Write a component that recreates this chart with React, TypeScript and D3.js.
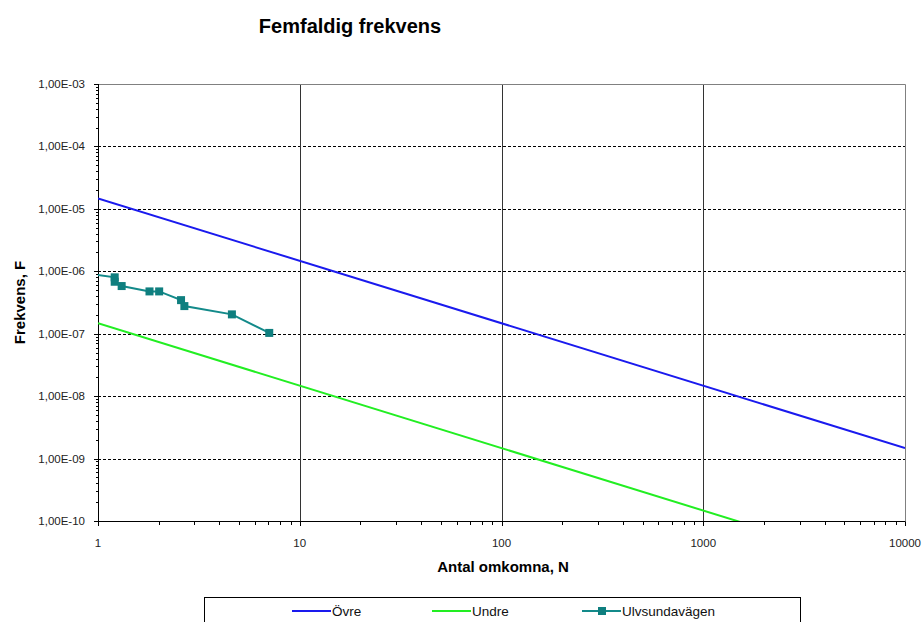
import { useEffect, useRef } from 'react';
import * as d3 from 'd3';

// Axis ticks
const xTicks = [1, 10, 100, 1000, 10000];
const xTickLabels = ['1', '10', '100', '1000', '10000'];
const yTicks = [1e-3, 1e-4, 1e-5, 1e-6, 1e-7, 1e-8, 1e-9, 1e-10];
const yTickLabels = ['1,00E-03', '1,00E-04', '1,00E-05', '1,00E-06', '1,00E-07', '1,00E-08', '1,00E-09', '1,00E-10'];

// Series
const ovreN = [1, 10000];
const ovreF = [1.47e-5, 1.47e-9];
const undreN = [1, 10000];
const undreF = [1.47e-7, 1.47e-11];
const ulvN = [0.9, 1.21, 1.21, 1.31, 1.8, 2.01, 2.58, 2.68, 4.61, 7.06];
const ulvF = [9.1e-7, 8.0e-7, 6.8e-7, 5.8e-7, 4.76e-7, 4.76e-7, 3.45e-7, 2.77e-7, 2.04e-7, 1.03e-7];

const App = () => {
  const svgRef = useRef<SVGSVGElement>(null);

  useEffect(() => {
    const svg = d3.select(svgRef.current);
    svg.selectAll('*').remove();

    const width = 923;
    const height = 622;
    const left = 98, right = 905, top = 84, bottom = 521;
    const font = 'Liberation Sans, Arial, sans-serif';

    svg.attr('width', width).attr('height', height);

    const x = d3.scaleLog().domain([1, 10000]).range([left, right]);
    const y = d3.scaleLog().domain([1e-10, 1e-3]).range([bottom, top]);

    svg.append('defs').append('clipPath').attr('id', 'plot')
      .append('rect').attr('x', left).attr('y', top)
      .attr('width', right - left).attr('height', bottom - top);

    // Horizontal dashed gridlines
    svg.append('g').selectAll('line')
      .data(yTicks.filter(d => d > 1e-10 && d < 1e-3))
      .enter().append('line')
      .attr('x1', left).attr('x2', right)
      .attr('y1', d => Math.round(y(d)) + 0.5).attr('y2', d => Math.round(y(d)) + 0.5)
      .attr('stroke', '#000').attr('stroke-dasharray', '3,2');

    // Vertical gridlines
    svg.append('g').selectAll('line')
      .data(xTicks.filter(d => d > 1 && d < 10000))
      .enter().append('line')
      .attr('x1', d => Math.round(x(d)) + 0.5).attr('x2', d => Math.round(x(d)) + 0.5)
      .attr('y1', top).attr('y2', bottom)
      .attr('stroke', '#333');

    // Top and right border
    svg.append('path')
      .attr('d', `M${left},${top + 0.5}H${right + 0.5}V${bottom}`)
      .attr('fill', 'none').attr('stroke', '#808080');

    // Minor ticks
    const yMinor: number[] = [];
    for (let e = -10; e < -3; e++) for (let m = 2; m <= 9; m++) yMinor.push(m * Math.pow(10, e));
    const xMinor: number[] = [];
    for (let e = 0; e < 4; e++) for (let m = 2; m <= 9; m++) xMinor.push(m * Math.pow(10, e));

    const axes = svg.append('g').attr('stroke', '#000');
    axes.append('line').attr('x1', left + 0.5).attr('x2', left + 0.5).attr('y1', top).attr('y2', bottom + 0.5);
    axes.append('line').attr('x1', left).attr('x2', right + 0.5).attr('y1', bottom + 0.5).attr('y2', bottom + 0.5);
    axes.selectAll('.ym').data(yMinor).enter().append('line')
      .attr('x1', left - 2).attr('x2', left + 0.5)
      .attr('y1', d => Math.round(y(d)) + 0.5).attr('y2', d => Math.round(y(d)) + 0.5);
    axes.selectAll('.yM').data(yTicks).enter().append('line')
      .attr('x1', left - 4).attr('x2', left + 0.5)
      .attr('y1', d => Math.round(y(d)) + 0.5).attr('y2', d => Math.round(y(d)) + 0.5);
    axes.selectAll('.xm').data(xMinor).enter().append('line')
      .attr('x1', d => Math.round(x(d)) + 0.5).attr('x2', d => Math.round(x(d)) + 0.5)
      .attr('y1', bottom + 0.5).attr('y2', bottom + 4);
    axes.selectAll('.xM').data(xTicks).enter().append('line')
      .attr('x1', d => Math.round(x(d)) + 0.5).attr('x2', d => Math.round(x(d)) + 0.5)
      .attr('y1', bottom + 0.5).attr('y2', bottom + 5);

    // Tick labels
    svg.append('g').selectAll('text').data(yTicks).enter().append('text')
      .attr('x', left - 13).attr('y', d => y(d) + 4)
      .attr('text-anchor', 'end').attr('font-family', font).attr('font-size', 11.5)
      .attr('fill', '#222')
      .text((d, i) => yTickLabels[i]);
    svg.append('g').selectAll('text').data(xTicks).enter().append('text')
      .attr('x', d => x(d)).attr('y', bottom + 26)
      .attr('text-anchor', 'middle').attr('font-family', font).attr('font-size', 11.5)
      .attr('fill', '#222')
      .text((d, i) => xTickLabels[i]);

    // Series
    const line = d3.line<[number, number]>().x(d => x(d[0])).y(d => y(d[1]));
    const plot = svg.append('g').attr('clip-path', 'url(#plot)');
    plot.append('path').datum(ovreN.map((n, i) => [n, ovreF[i]] as [number, number]))
      .attr('d', line).attr('fill', 'none').attr('stroke', '#1a1aee').attr('stroke-width', 2);
    plot.append('path').datum(undreN.map((n, i) => [n, undreF[i]] as [number, number]))
      .attr('d', line).attr('fill', 'none').attr('stroke', '#22ee22').attr('stroke-width', 2);
    const ulv = ulvN.map((n, i) => [n, ulvF[i]] as [number, number]);
    plot.append('path').datum(ulv)
      .attr('d', line).attr('fill', 'none').attr('stroke', '#138a8a').attr('stroke-width', 2);
    plot.selectAll('.mk').data(ulv).enter().append('rect')
      .attr('x', d => x(d[0]) - 4).attr('y', d => y(d[1]) - 4)
      .attr('width', 8).attr('height', 8).attr('fill', '#0f7f7f');

    // Titles
    svg.append('text').attr('x', 350).attr('y', 33).attr('text-anchor', 'middle')
      .attr('font-family', font).attr('font-size', 20).attr('font-weight', 'bold')
      .text('Femfaldig frekvens');
    svg.append('text').attr('x', 503).attr('y', 572).attr('text-anchor', 'middle')
      .attr('font-family', font).attr('font-size', 15).attr('font-weight', 'bold')
      .text('Antal omkomna, N');
    svg.append('text').attr('transform', `translate(25,${(top + bottom) / 2}) rotate(-90)`)
      .attr('text-anchor', 'middle')
      .attr('font-family', font).attr('font-size', 15).attr('font-weight', 'bold')
      .text('Frekvens, F');

    // Legend
    const legend = svg.append('g');
    legend.append('rect').attr('x', 204.5).attr('y', 597.5).attr('width', 596).attr('height', 40)
      .attr('fill', '#fff').attr('stroke', '#000');
    const items = [
      { label: 'Övre', color: '#1a1aee', x: 292, marker: false },
      { label: 'Undre', color: '#22ee22', x: 432, marker: false },
      { label: 'Ulvsundavägen', color: '#138a8a', x: 582, marker: true },
    ];
    items.forEach(it => {
      legend.append('line').attr('x1', it.x).attr('x2', it.x + 39).attr('y1', 611).attr('y2', 611)
        .attr('stroke', it.color).attr('stroke-width', 2);
      if (it.marker) {
        legend.append('rect').attr('x', it.x + 16).attr('y', 607).attr('width', 8).attr('height', 8)
          .attr('fill', '#0f7f7f');
      }
      legend.append('text').attr('x', it.x + 40).attr('y', 616)
        .attr('font-family', font).attr('font-size', 13.5).attr('fill', '#111')
        .text(it.label);
    });
  }, []);

  return (
    <div style={{ position: 'absolute', left: 0, top: 0 }}>
      <svg ref={svgRef} style={{ display: 'block' }}></svg>
    </div>
  );
};

export default App;
